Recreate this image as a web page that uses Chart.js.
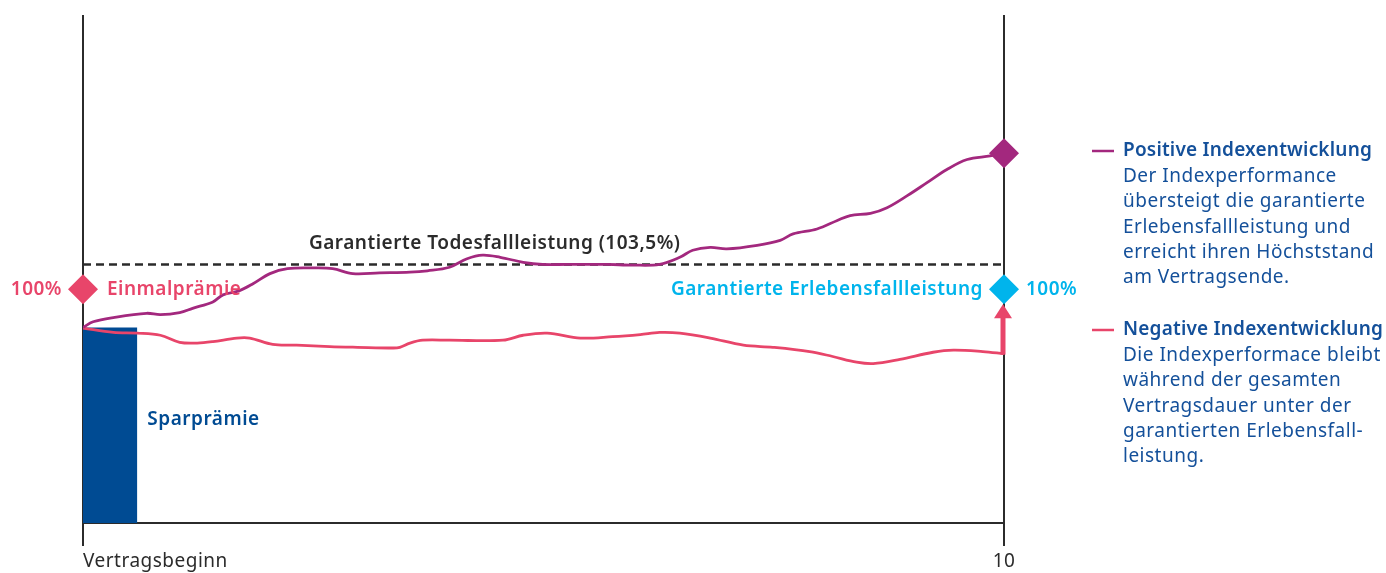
<!DOCTYPE html>
<html lang="de">
<head>
<meta charset="utf-8">
<script src="https://cdn.jsdelivr.net/npm/chart.js@4.4.1/dist/chart.umd.min.js"></script>
<style>
  html, body { margin: 0; padding: 0; background: #fff; }
  #wrap { width: 1386px; height: 573px; position: relative; }
</style>
</head>
<body>
<div id="wrap"><canvas id="chart"></canvas></div>
<script>
// Jahre seit Vertragsbeginn, Werte in % der Einmalprämie
const posYears = [0, 0.11, 0.33, 0.69, 0.84, 1.05, 1.19, 1.41, 1.52, 1.70, 1.85, 2.03, 2.22, 2.50, 2.71, 2.93, 3.22, 3.55, 3.74, 3.98, 4.17, 4.34, 4.53, 4.78, 4.99, 5.26, 5.69, 5.97, 6.26, 6.48, 6.62, 6.81, 6.99, 7.32, 7.57, 7.71, 7.97, 8.19, 8.33, 8.55, 8.73, 8.95, 9.16, 9.38, 9.60, 9.85, 10];
const positive = [94.6, 95.4, 96.0, 96.6, 96.4, 96.7, 97.3, 98.2, 99.2, 99.8, 100.8, 102.2, 102.9, 103.0, 102.9, 102.2, 102.3, 102.4, 102.6, 103.1, 104.3, 104.8, 104.5, 103.8, 103.5, 103.5, 103.5, 103.4, 103.5, 104.5, 105.5, 105.9, 105.7, 106.2, 106.9, 107.8, 108.5, 109.7, 110.4, 110.7, 111.5, 113.2, 115.0, 116.9, 118.3, 118.8, 119.2];

const negYears = [0, 0.33, 0.59, 0.84, 1.05, 1.24, 1.41, 1.67, 1.81, 2.06, 2.32, 2.68, 2.98, 3.37, 3.44, 3.55, 3.69, 3.98, 4.56, 4.78, 5.04, 5.40, 5.75, 6.05, 6.26, 6.48, 6.81, 7.17, 7.49, 7.89, 8.14, 8.40, 8.58, 8.87, 9.23, 9.45, 9.77, 10];
const negative = [94.5, 93.9, 93.8, 93.5, 92.5, 92.4, 92.6, 93.1, 93.1, 92.2, 92.1, 91.9, 91.8, 91.7, 91.8, 92.4, 92.8, 92.8, 92.8, 93.5, 93.8, 93.1, 93.3, 93.6, 93.9, 93.8, 93.1, 92.1, 91.8, 91.2, 90.5, 89.7, 89.5, 90.1, 91.1, 91.4, 91.2, 90.9];

const einmalpraemie = 100;
const erlebensfall = 100;
const todesfall = 103.5;
const sparpraemie = 94.6;
const sparpraemieDauer = 0.59;
const startYear = 0;
const endYear = 10;
const tickLabels = ['Vertragsbeginn', '10'];

const legendItems = [
  { title: 'Positive Indexentwicklung', color: '#a3287e',
    lines: ['Der Indexperformance', 'übersteigt die garantierte', 'Erlebensfallleistung und', 'erreicht ihren Höchststand', 'am Vertragsende.'] },
  { title: 'Negative Indexentwicklung', color: '#e8456a',
    lines: ['Die Indexperformace bleibt', 'während der gesamten', 'Vertragsdauer unter der', 'garantierten Erlebensfall-', 'leistung.'] }
];

const PURPLE = '#a3287e';
const PINK = '#e8456a';
const CYAN = '#00b4ec';
const BLUE = '#004b93';
const TEXT_BLUE = '#14509a';
const DARK = '#2b2b2b';
const FONT = '"Noto Sans", sans-serif';

const decorations = {
  id: 'decorations',
  beforeDatasetsDraw(chart) {
    const { ctx, scales: { x }, chartArea } = chart;
    const x0 = x.getPixelForValue(startYear);
    const x1 = x.getPixelForValue(endYear);
    ctx.save();
    ctx.strokeStyle = DARK;
    ctx.lineWidth = 2;
    ctx.beginPath();
    ctx.moveTo(x0, chartArea.top);
    ctx.lineTo(x0, chartArea.bottom + 23);
    ctx.moveTo(x1, chartArea.top);
    ctx.lineTo(x1, chartArea.bottom + 23);
    ctx.moveTo(x0, chartArea.bottom);
    ctx.lineTo(x1, chartArea.bottom);
    ctx.stroke();
    ctx.restore();
  },
  afterDatasetsDraw(chart) {
    const { ctx, scales: { x, y }, chartArea } = chart;
    const x0 = x.getPixelForValue(startYear);
    const x1 = x.getPixelForValue(endYear);
    ctx.save();

    // Pfeil von der negativen Entwicklung zur garantierten Erlebensfallleistung
    const yFrom = y.getPixelForValue(negative[negative.length - 1]);
    const yTip = y.getPixelForValue(erlebensfall) + 15;
    ctx.strokeStyle = PINK;
    ctx.fillStyle = PINK;
    ctx.lineWidth = 5;
    ctx.beginPath();
    ctx.moveTo(x1 - 1, yFrom + 1);
    ctx.lineTo(x1 - 1, yTip + 12);
    ctx.stroke();
    ctx.beginPath();
    ctx.moveTo(x1 - 1, yTip);
    ctx.lineTo(x1 - 10, yTip + 14);
    ctx.lineTo(x1 + 8, yTip + 14);
    ctx.closePath();
    ctx.fill();

    ctx.textBaseline = 'middle';
    ctx.letterSpacing = '0.5px';
    ctx.font = '600 19px ' + FONT;

    ctx.fillStyle = DARK;
    ctx.textAlign = 'center';
    ctx.fillText('Garantierte Todesfallleistung (103,5%)', x.getPixelForValue(4.47), y.getPixelForValue(todesfall) - 21);

    const yEin = y.getPixelForValue(einmalpraemie);
    ctx.fillStyle = PINK;
    ctx.textAlign = 'right';
    ctx.fillText('100%', x0 - 21, yEin);
    ctx.textAlign = 'left';
    ctx.fillText('Einmalprämie', x0 + 24, yEin);

    const yErl = y.getPixelForValue(erlebensfall);
    ctx.fillStyle = CYAN;
    ctx.textAlign = 'right';
    ctx.fillText('Garantierte Erlebensfallleistung', x1 - 21, yErl);
    ctx.textAlign = 'left';
    ctx.fillText('100%', x1 + 22, yErl);

    const ySpar = (y.getPixelForValue(sparpraemie) + chartArea.bottom) / 2 - 6;
    ctx.fillStyle = BLUE;
    ctx.fillText('Sparprämie', x.getPixelForValue(sparpraemieDauer) + 10, ySpar);

    ctx.font = '19px ' + FONT;
    ctx.fillStyle = DARK;
    ctx.textAlign = 'left';
    ctx.fillText(tickLabels[0], x0, chartArea.bottom + 39);
    ctx.textAlign = 'center';
    ctx.fillText(tickLabels[1], x1, chartArea.bottom + 39);

    // Legende rechts
    const lx = 1092;
    const tops = [151, 330];
    legendItems.forEach((item, i) => {
      const ty = tops[i];
      ctx.strokeStyle = item.color;
      ctx.lineWidth = 2.5;
      ctx.beginPath();
      ctx.moveTo(lx, ty);
      ctx.lineTo(lx + 22, ty);
      ctx.stroke();
      ctx.fillStyle = TEXT_BLUE;
      ctx.textAlign = 'left';
      ctx.letterSpacing = '0.2px';
      ctx.font = '600 19px ' + FONT;
      ctx.fillText(item.title, lx + 31, ty);
      ctx.letterSpacing = '0.5px';
      ctx.font = '19px ' + FONT;
      item.lines.forEach((line, j) => {
        ctx.fillText(line, lx + 31, ty + 25.4 * (j + 1));
      });
    });
    ctx.restore();
  }
};

new Chart(document.getElementById('chart'), {
  type: 'line',
  data: {
    datasets: [
      {
        label: 'Marker',
        type: 'scatter',
        data: [
          { x: startYear, y: einmalpraemie },
          { x: endYear, y: erlebensfall },
          { x: endYear, y: positive[positive.length - 1] }
        ],
        pointStyle: 'rectRot',
        pointRadius: 15,
        pointBorderWidth: 0,
        pointBackgroundColor: [PINK, CYAN, PURPLE],
        showLine: false,
        clip: false,
        order: 0
      },
      {
        label: 'Positive Indexentwicklung',
        data: posYears.map((v, i) => ({ x: v, y: positive[i] })),
        borderColor: PURPLE,
        borderWidth: 2.8,
        pointRadius: 0,
        tension: 0.35,
        order: 1
      },
      {
        label: 'Negative Indexentwicklung',
        data: negYears.map((v, i) => ({ x: v, y: negative[i] })),
        borderColor: PINK,
        borderWidth: 2.8,
        pointRadius: 0,
        tension: 0.35,
        order: 1
      },
      {
        label: 'Garantierte Todesfallleistung',
        data: [{ x: startYear, y: todesfall }, { x: endYear, y: todesfall }],
        borderColor: DARK,
        borderWidth: 2.5,
        borderDash: [8, 5],
        pointRadius: 0,
        order: 2
      },
      {
        label: 'Sparprämie',
        data: [{ x: startYear, y: sparpraemie }, { x: sparpraemieDauer, y: sparpraemie }],
        borderWidth: 0,
        backgroundColor: BLUE,
        fill: 'start',
        pointRadius: 0,
        order: 3
      }
    ]
  },
  options: {
    responsive: true,
    maintainAspectRatio: false,
    animation: false,
    layout: { padding: { left: 83, right: 382, top: 11, bottom: 50 } },
    plugins: { legend: { display: false }, tooltip: { enabled: false } },
    scales: {
      x: { type: 'linear', min: startYear, max: endYear, display: false },
      y: { min: 67, max: 138.7, display: false }
    }
  },
  plugins: [decorations]
});
</script>
</body>
</html>
